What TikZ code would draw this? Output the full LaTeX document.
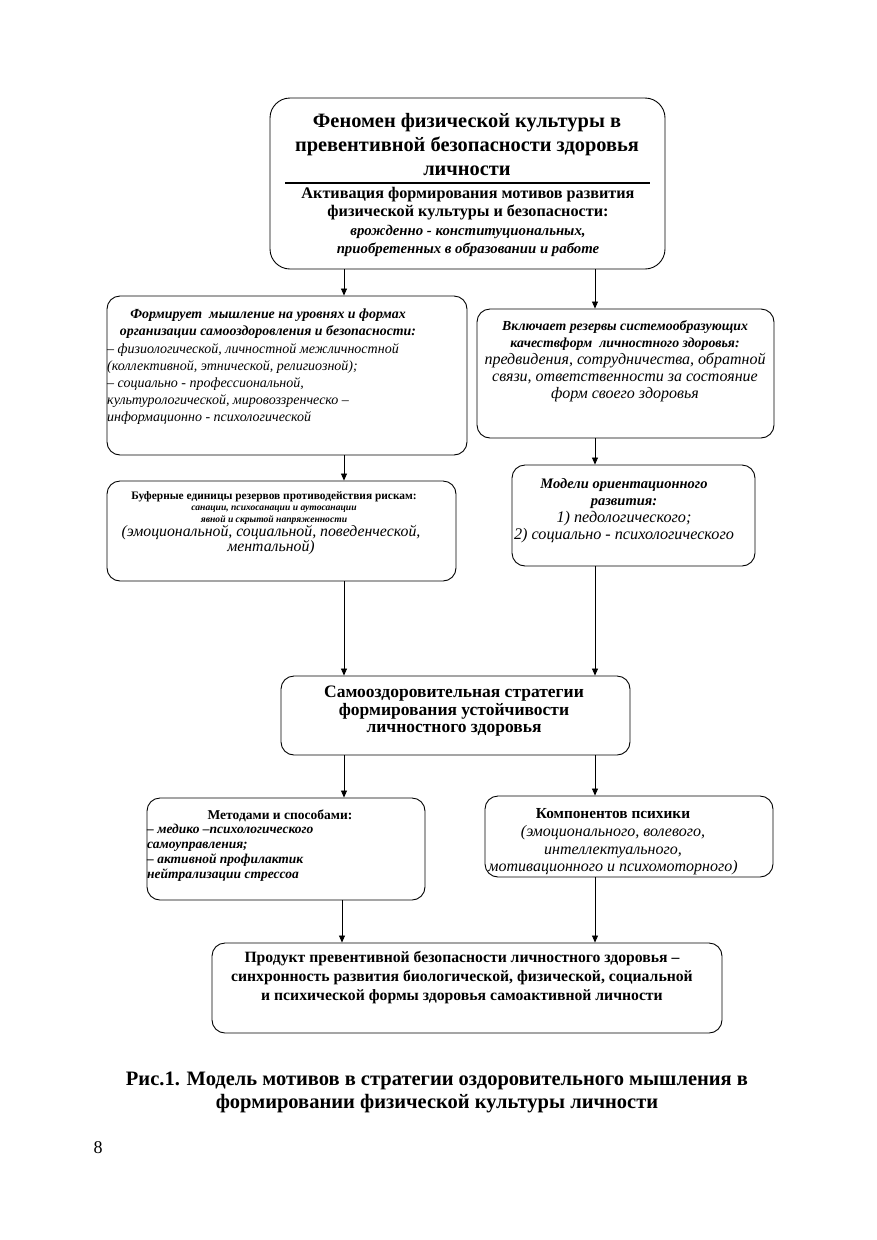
\documentclass[tikz,border=0pt]{standalone}
\usepackage{fontspec}
\setmainfont{Liberation Serif}
\usetikzlibrary{arrows.meta}
\newcommand\fsz[2]{\fontsize{#1}{#2}\selectfont}
\begin{document}
\begin{tikzpicture}[x=1pt,y=-1pt,
 box/.style={draw, line width=0.9pt, rounded corners=13pt, inner sep=0pt},
 arr/.style={line width=0.8pt, -{Triangle[length=7pt,width=6pt]}},
 txt/.style={inner sep=0pt, align=center},
 ltxt/.style={inner sep=0pt, align=left, anchor=west},
]
\useasboundingbox (0,0) rectangle (876,1240);
% boxes
\node[box, rounded corners=20pt, minimum width=395pt, minimum height=171pt] (top) at (467.5,183.5) {};
\node[box, minimum width=360pt, minimum height=159pt] (A) at (287,375.5) {};
\node[box, minimum width=297pt, minimum height=129pt] (B) at (625.5,373.5) {};
\node[box, minimum width=349pt, minimum height=100pt] (C) at (281.5,531) {};
\node[box, minimum width=243pt, minimum height=101pt] (D) at (633.5,515.5) {};
\node[box, minimum width=349pt, minimum height=79pt] (E) at (455.5,715.5) {};
\node[box, minimum width=278pt, minimum height=102pt] (F) at (286,849) {};
\node[box, minimum width=288pt, minimum height=81pt] (G) at (629,836.5) {};
\node[box, minimum width=510pt, minimum height=90pt] (H) at (467,988) {};
% texts
\node[txt, font=\fsz{20.4}{24}\bfseries] (topT) at (467,145) {Феномен физической культуры в\\превентивной безопасности здоровья\\личности};
\draw[line width=1.5pt] (285,183) -- (650,183);
\node[txt, font=\fsz{16.2}{18.4}\bfseries] (topS) at (468,222) {Активация формирования мотивов развития\\физической культуры и безопасности:\\\fsz{14.8}{18.4}\itshape врожденно - конституциональных,\\\fsz{14.8}{18.4}\itshape приобретенных в образовании и работе};
\node[txt, font=\fsz{13.9}{17.5}\bfseries\itshape] (A1) at (268,323.5) {Формирует\ \ мышление на уровнях и формах\\организации самооздоровления и безопасности:};
\node[ltxt, font=\fsz{14}{17}\itshape] (A2) at (107,384.5) {– физиологической, личностной межличностной\\(коллективной, этнической, религиозной);\\– социально - профессиональной,\\культурологической, мировоззренческо –\\информационно - психологической};
\node[txt, font=\fsz{16}{17}\itshape] (BT) at (625,361) {\fsz{13.8}{17}\bfseries Включает резервы системообразующих\\\fsz{13.8}{17}\bfseries качествформ\ \ личностного здоровья:\\предвидения, сотрудничества, обратной\\связи, ответственности за состояние\\форм своего здоровья};
\node[txt, font=\fsz{11.4}{11.6}\bfseries] (C1) at (274,508) {Буферные единицы резервов противодействия рискам:\\\fsz{9.6}{11.6}\itshape санации, психосанации и аутосанации\\\fsz{9.6}{11.6}\itshape явной и скрытой напряженности};
\node[txt, font=\fsz{15.8}{15.5}\itshape] (C2) at (271,540) {(эмоциональной, социальной, поведенческой,\\ментальной)};
\node[txt, font=\fsz{16.2}{16.8}\itshape] (DT) at (624,510.5) {\fsz{14.5}{16.8}\bfseries Модели ориентационного\\\fsz{14.5}{16.8}\bfseries развития:\\1) педологического;\\2) социально - психологического};
\node[txt, font=\fsz{17.5}{17.5}\bfseries] (ET) at (454,711.5) {Самооздоровительная стратегии\\формирования устойчивости\\личностного здоровья};
\node[txt, font=\fsz{13.5}{15}\bfseries] (F1) at (280,815.5) {Методами и способами:};
\node[ltxt, font=\fsz{13.5}{15}\bfseries\itshape] (F2) at (147,853) {– медико –психологического\\самоуправления;\\– активной профилактик\\нейтрализации стрессоа};
\node[txt, font=\fsz{16}{17.7}\itshape] (GT) at (613,842) {\fsz{15.3}{17.7}\upshape\bfseries Компонентов психики\\(эмоционального, волевого,\\интеллектуального,\\мотивационного и психомоторного)};
\node[txt, font=\fsz{15.7}{19}\bfseries] (HT) at (462,978) {Продукт превентивной безопасности личностного здоровья –\\синхронность развития биологической, физической, социальной\\и психической формы здоровья самоактивной личности};
\node[txt, font=\fsz{20.5}{23}\bfseries] (cap) at (437,1092) {Рис.1. Модель мотивов в стратегии оздоровительного мышления в\\формировании физической культуры личности};
\node[txt, font=\fsz{18}{20}] (pg) at (98,1148) {8};
% connectors
\coordinate (L) at (344,0);
\coordinate (R) at (595,0);
\coordinate (L2) at (342,0);
\draw[arr] (top.south -| L) -- (A.north -| L);
\draw[arr] (top.south -| R) -- (B.north -| R);
\draw[arr] (A.south -| L) -- (C.north -| L);
\draw[arr] (B.south -| R) -- (D.north -| R);
\draw[arr] (C.south -| L) -- (E.north -| L);
\draw[arr] (D.south -| R) -- (E.north -| R);
\draw[arr] (E.south -| L) -- (F.north -| L);
\draw[arr] (E.south -| R) -- (G.north -| R);
\draw[arr] (F.south -| L2) -- (H.north -| L2);
\draw[arr] (G.south -| R) -- (H.north -| R);
\end{tikzpicture}
\end{document}
